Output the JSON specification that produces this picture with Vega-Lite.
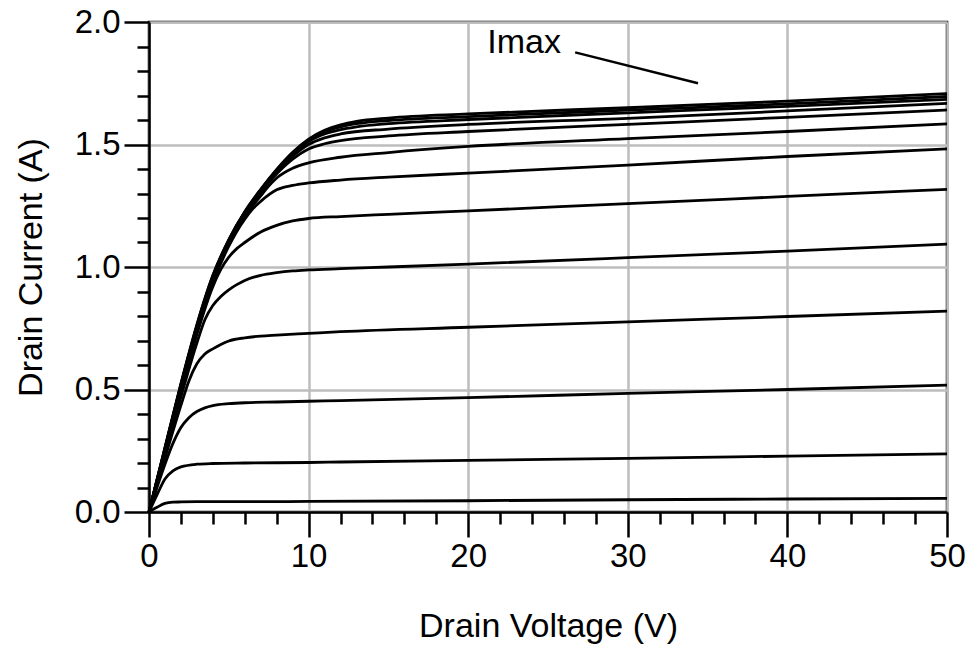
{
  "$schema": "https://vega.github.io/schema/vega-lite/v6.json",
  "width": 798,
  "height": 490,
  "autosize": "none",
  "padding": {"left": 149, "top": 22, "right": 21, "bottom": 134},
  "background": "white",
  "config": {
    "font": "Liberation Sans",
    "view": {"stroke": "black", "strokeWidth": 2.5},
    "axis": {
      "domainColor": "black",
      "domainWidth": 2.5,
      "tickColor": "black",
      "tickWidth": 2.5,
      "labelColor": "black",
      "labelFontSize": 33,
      "labelFont": "Liberation Sans",
      "labelOverlap": false,
      "labelFlush": false,
      "titleColor": "black",
      "titleFont": "Liberation Sans",
      "titleFontSize": 34,
      "titleFontWeight": "normal",
      "grid": true,
      "gridColor": "#bdbdbd",
      "gridWidth": 2.5,
      "tickCount": 100
    }
  },
  "datasets": {
    "curves": [
      {"s":"c1","v":0,"i":0},{"s":"c1","v":0.5,"i":0.019},{"s":"c1","v":1,"i":0.035},{"s":"c1","v":1.5,"i":0.04},{"s":"c1","v":2,"i":0.041},{"s":"c1","v":3,"i":0.042},{"s":"c1","v":5,"i":0.042},{"s":"c1","v":10,"i":0.043},{"s":"c1","v":20,"i":0.046},{"s":"c1","v":30,"i":0.05},{"s":"c1","v":40,"i":0.053},{"s":"c1","v":50,"i":0.056},
      {"s":"c2","v":0,"i":0},{"s":"c2","v":0.5,"i":0.07},{"s":"c2","v":1,"i":0.135},{"s":"c2","v":1.5,"i":0.168},{"s":"c2","v":2,"i":0.184},{"s":"c2","v":3,"i":0.195},{"s":"c2","v":4,"i":0.198},{"s":"c2","v":6,"i":0.2},{"s":"c2","v":10,"i":0.202},{"s":"c2","v":12,"i":0.204},{"s":"c2","v":20,"i":0.211},{"s":"c2","v":30,"i":0.219},{"s":"c2","v":40,"i":0.228},{"s":"c2","v":50,"i":0.237},
      {"s":"c3","v":0,"i":0},{"s":"c3","v":0.5,"i":0.1},{"s":"c3","v":1,"i":0.195},{"s":"c3","v":1.5,"i":0.28},{"s":"c3","v":2,"i":0.345},{"s":"c3","v":2.5,"i":0.385},{"s":"c3","v":3,"i":0.41},{"s":"c3","v":3.5,"i":0.425},{"s":"c3","v":4,"i":0.434},{"s":"c3","v":5,"i":0.442},{"s":"c3","v":6,"i":0.446},{"s":"c3","v":8,"i":0.449},{"s":"c3","v":10,"i":0.452},{"s":"c3","v":12,"i":0.455},{"s":"c3","v":20,"i":0.467},{"s":"c3","v":30,"i":0.484},{"s":"c3","v":40,"i":0.5},{"s":"c3","v":50,"i":0.518},
      {"s":"c4","v":0,"i":0},{"s":"c4","v":1,"i":0.22},{"s":"c4","v":2,"i":0.435},{"s":"c4","v":2.5,"i":0.535},{"s":"c4","v":3,"i":0.605},{"s":"c4","v":3.5,"i":0.645},{"s":"c4","v":4,"i":0.666},{"s":"c4","v":4.5,"i":0.684},{"s":"c4","v":5,"i":0.698},{"s":"c4","v":6,"i":0.711},{"s":"c4","v":7,"i":0.718},{"s":"c4","v":8,"i":0.722},{"s":"c4","v":10,"i":0.729},{"s":"c4","v":12,"i":0.736},{"s":"c4","v":20,"i":0.754},{"s":"c4","v":30,"i":0.776},{"s":"c4","v":40,"i":0.798},{"s":"c4","v":50,"i":0.82},
      {"s":"c5","v":0,"i":0},{"s":"c5","v":1,"i":0.238},{"s":"c5","v":2,"i":0.47},{"s":"c5","v":3,"i":0.69},{"s":"c5","v":3.5,"i":0.785},{"s":"c5","v":4,"i":0.843},{"s":"c5","v":4.5,"i":0.88},{"s":"c5","v":5,"i":0.907},{"s":"c5","v":5.5,"i":0.928},{"s":"c5","v":6,"i":0.945},{"s":"c5","v":7,"i":0.966},{"s":"c5","v":8,"i":0.977},{"s":"c5","v":9,"i":0.984},{"s":"c5","v":10,"i":0.988},{"s":"c5","v":12,"i":0.993},{"s":"c5","v":15,"i":1.0},{"s":"c5","v":20,"i":1.012},{"s":"c5","v":30,"i":1.038},{"s":"c5","v":40,"i":1.065},{"s":"c5","v":50,"i":1.093},
      {"s":"c6","v":0,"i":0},{"s":"c6","v":1,"i":0.247},{"s":"c6","v":2,"i":0.49},{"s":"c6","v":3,"i":0.725},{"s":"c6","v":4,"i":0.92},{"s":"c6","v":4.5,"i":0.99},{"s":"c6","v":5,"i":1.04},{"s":"c6","v":5.5,"i":1.075},{"s":"c6","v":6,"i":1.1},{"s":"c6","v":7,"i":1.143},{"s":"c6","v":8,"i":1.17},{"s":"c6","v":9,"i":1.188},{"s":"c6","v":10,"i":1.198},{"s":"c6","v":12,"i":1.206},{"s":"c6","v":15,"i":1.215},{"s":"c6","v":20,"i":1.229},{"s":"c6","v":30,"i":1.259},{"s":"c6","v":40,"i":1.288},{"s":"c6","v":50,"i":1.317},
      {"s":"c7","v":0,"i":0},{"s":"c7","v":1,"i":0.251},{"s":"c7","v":2,"i":0.5},{"s":"c7","v":3,"i":0.74},{"s":"c7","v":4,"i":0.935},{"s":"c7","v":5,"i":1.085},{"s":"c7","v":5.5,"i":1.145},{"s":"c7","v":6,"i":1.195},{"s":"c7","v":6.5,"i":1.237},{"s":"c7","v":7,"i":1.268},{"s":"c7","v":8,"i":1.315},{"s":"c7","v":9,"i":1.333},{"s":"c7","v":10,"i":1.343},{"s":"c7","v":12,"i":1.355},{"s":"c7","v":15,"i":1.367},{"s":"c7","v":20,"i":1.383},{"s":"c7","v":30,"i":1.416},{"s":"c7","v":40,"i":1.451},{"s":"c7","v":50,"i":1.482},
      {"s":"c8","v":0,"i":0},{"s":"c8","v":1,"i":0.253},{"s":"c8","v":2,"i":0.505},{"s":"c8","v":3,"i":0.745},{"s":"c8","v":4,"i":0.945},{"s":"c8","v":5,"i":1.095},{"s":"c8","v":6,"i":1.207},{"s":"c8","v":7,"i":1.29},{"s":"c8","v":7.5,"i":1.33},{"s":"c8","v":8,"i":1.363},{"s":"c8","v":9,"i":1.403},{"s":"c8","v":10,"i":1.425},{"s":"c8","v":12,"i":1.448},{"s":"c8","v":15,"i":1.467},{"s":"c8","v":20,"i":1.492},{"s":"c8","v":30,"i":1.524},{"s":"c8","v":40,"i":1.553},{"s":"c8","v":50,"i":1.584},
      {"s":"c9","v":0,"i":0},{"s":"c9","v":1,"i":0.255},{"s":"c9","v":2,"i":0.51},{"s":"c9","v":3,"i":0.75},{"s":"c9","v":4,"i":0.95},{"s":"c9","v":5,"i":1.1},{"s":"c9","v":6,"i":1.215},{"s":"c9","v":7,"i":1.305},{"s":"c9","v":8,"i":1.38},{"s":"c9","v":9,"i":1.44},{"s":"c9","v":10,"i":1.482},{"s":"c9","v":11,"i":1.503},{"s":"c9","v":12,"i":1.516},{"s":"c9","v":15,"i":1.535},{"s":"c9","v":20,"i":1.553},{"s":"c9","v":30,"i":1.582},{"s":"c9","v":40,"i":1.611},{"s":"c9","v":50,"i":1.641},
      {"s":"c10","v":0,"i":0},{"s":"c10","v":1,"i":0.257},{"s":"c10","v":2,"i":0.514},{"s":"c10","v":3,"i":0.754},{"s":"c10","v":4,"i":0.955},{"s":"c10","v":5,"i":1.105},{"s":"c10","v":6,"i":1.22},{"s":"c10","v":7,"i":1.31},{"s":"c10","v":8,"i":1.388},{"s":"c10","v":9,"i":1.452},{"s":"c10","v":10,"i":1.5},{"s":"c10","v":11,"i":1.527},{"s":"c10","v":12,"i":1.543},{"s":"c10","v":15,"i":1.563},{"s":"c10","v":20,"i":1.582},{"s":"c10","v":30,"i":1.607},{"s":"c10","v":40,"i":1.637},{"s":"c10","v":50,"i":1.668},
      {"s":"c11","v":0,"i":0},{"s":"c11","v":1,"i":0.259},{"s":"c11","v":2,"i":0.518},{"s":"c11","v":3,"i":0.758},{"s":"c11","v":4,"i":0.96},{"s":"c11","v":5,"i":1.108},{"s":"c11","v":6,"i":1.222},{"s":"c11","v":7,"i":1.313},{"s":"c11","v":8,"i":1.393},{"s":"c11","v":9,"i":1.46},{"s":"c11","v":10,"i":1.512},{"s":"c11","v":11,"i":1.543},{"s":"c11","v":12,"i":1.561},{"s":"c11","v":13,"i":1.572},{"s":"c11","v":15,"i":1.585},{"s":"c11","v":20,"i":1.602},{"s":"c11","v":30,"i":1.629},{"s":"c11","v":40,"i":1.656},{"s":"c11","v":50,"i":1.684},
      {"s":"c12","v":0,"i":0},{"s":"c12","v":1,"i":0.261},{"s":"c12","v":2,"i":0.521},{"s":"c12","v":3,"i":0.761},{"s":"c12","v":4,"i":0.963},{"s":"c12","v":5,"i":1.11},{"s":"c12","v":6,"i":1.224},{"s":"c12","v":7,"i":1.315},{"s":"c12","v":8,"i":1.396},{"s":"c12","v":9,"i":1.465},{"s":"c12","v":10,"i":1.518},{"s":"c12","v":11,"i":1.552},{"s":"c12","v":12,"i":1.572},{"s":"c12","v":13,"i":1.585},{"s":"c12","v":15,"i":1.598},{"s":"c12","v":20,"i":1.614},{"s":"c12","v":30,"i":1.64},{"s":"c12","v":40,"i":1.666},{"s":"c12","v":50,"i":1.696},
      {"s":"c13","v":0,"i":0},{"s":"c13","v":1,"i":0.263},{"s":"c13","v":2,"i":0.524},{"s":"c13","v":3,"i":0.765},{"s":"c13","v":4,"i":0.966},{"s":"c13","v":5,"i":1.112},{"s":"c13","v":6,"i":1.226},{"s":"c13","v":7,"i":1.317},{"s":"c13","v":8,"i":1.398},{"s":"c13","v":9,"i":1.468},{"s":"c13","v":10,"i":1.522},{"s":"c13","v":11,"i":1.558},{"s":"c13","v":12,"i":1.58},{"s":"c13","v":13,"i":1.594},{"s":"c13","v":15,"i":1.608},{"s":"c13","v":20,"i":1.625},{"s":"c13","v":30,"i":1.65},{"s":"c13","v":40,"i":1.677},{"s":"c13","v":50,"i":1.708}
    ]
  },
  "layer": [
    {
      "data": {"name": "curves"},
      "mark": {"type": "line", "interpolate": "monotone", "color": "black", "strokeWidth": 2.8},
      "encoding": {
        "x": {
          "field": "v", "type": "quantitative",
          "scale": {"domain": [0, 50], "nice": false, "zero": false},
          "axis": {
            "title": "Drain Voltage (V)",
            "values": [0,2,4,6,8,10,12,14,16,18,20,22,24,26,28,30,32,34,36,38,40,42,44,46,48,50],
            "tickCount": 100,
            "format": "d",
            "labelExpr": "datum.value % 10 == 0 ? datum.label : ''",
            "tickSize": {"condition": {"test": "datum.value % 10 == 0", "value": 25}, "value": 12},
            "gridOpacity": {"condition": {"test": "datum.value % 10 == 0", "value": 1}, "value": 0},
            "labelPadding": 3,
            "titlePadding": 36
          }
        },
        "y": {
          "field": "i", "type": "quantitative",
          "scale": {"domain": [0, 2], "nice": false},
          "axis": {
            "title": "Drain Current (A)",
            "values": [0,0.1,0.2,0.3,0.4,0.5,0.6,0.7,0.8,0.9,1.0,1.1,1.2,1.3,1.4,1.5,1.6,1.7,1.8,1.9,2.0],
            "tickCount": 100,
            "format": ".1f",
            "labelExpr": "abs(datum.value*2 - round(datum.value*2)) < 0.001 ? datum.label : ''",
            "tickSize": {"condition": {"test": "abs(datum.value*2 - round(datum.value*2)) < 0.001", "value": 25}, "value": 12},
            "gridOpacity": {"condition": {"test": "abs(datum.value*2 - round(datum.value*2)) < 0.001", "value": 1}, "value": 0},
            "labelPadding": 4,
            "titlePadding": 26
          }
        },
        "detail": {"field": "s", "type": "nominal"}
      }
    },
    {
      "data": {"values": [{"x": 26.7, "y": 1.876, "x2": 34.4, "y2": 1.75}]},
      "mark": {"type": "rule", "color": "black", "strokeWidth": 2.5},
      "encoding": {
        "x": {"field": "x", "type": "quantitative"},
        "y": {"field": "y", "type": "quantitative"},
        "x2": {"field": "x2"},
        "y2": {"field": "y2"}
      }
    },
    {
      "data": {"values": [{"x": 21.2, "y": 1.873, "label": "Imax"}]},
      "mark": {"type": "text", "align": "left", "baseline": "alphabetic", "fontSize": 34, "font": "Liberation Sans", "color": "black"},
      "encoding": {
        "x": {"field": "x", "type": "quantitative"},
        "y": {"field": "y", "type": "quantitative"},
        "text": {"field": "label"}
      }
    }
  ]
}
